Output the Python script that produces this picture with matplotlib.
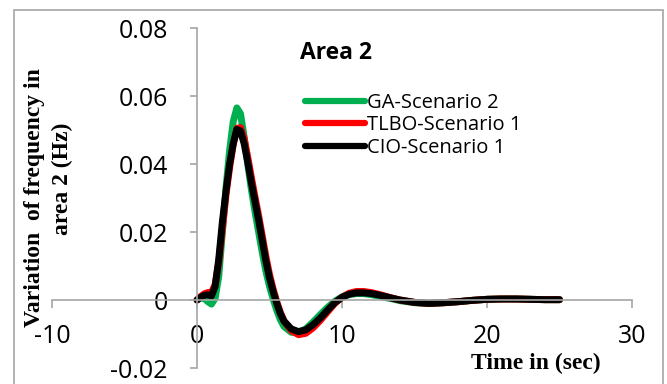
import matplotlib
matplotlib.use("Agg")
import matplotlib.pyplot as plt
from matplotlib.patches import Rectangle

# Time samples (s)
time_s = [0, 0.25, 0.5, 0.75, 1.0, 1.25, 1.5, 1.75, 2.0, 2.25, 2.5, 2.75, 3.0,
          3.25, 3.5, 3.75, 4.0, 4.25, 4.5, 4.75, 5.0, 5.25, 5.5, 5.75, 6.0,
          6.5, 7.0, 7.5, 8.0, 8.5, 9.0, 9.5, 10.0, 10.5, 11.0, 11.5, 12.0,
          12.5, 13.0, 13.5, 14.0, 15, 16, 17, 18, 19, 20, 21, 22, 23, 24, 25]

# Frequency deviation in area 2 (Hz)
ga_scenario2 = [0, 0.0006, 0.0005, -0.0005, -0.0012, 0.0005, 0.0070, 0.0200,
                0.0330, 0.0440, 0.0525, 0.0565, 0.0548, 0.0480, 0.0400, 0.0325,
                0.0260, 0.0200, 0.0140, 0.0085, 0.0040, 0.0003, -0.0030,
                -0.0058, -0.0078, -0.0095, -0.0095, -0.0085, -0.0065, -0.0043,
                -0.0022, -0.0004, 0.0009, 0.0016, 0.0019, 0.0019, 0.0016,
                0.0012, 0.0007, 0.0003, -0.0002, -0.0008, -0.0010, -0.0008,
                -0.0005, -0.0001, 0.0002, 0.0003, 0.0003, 0.0002, 0.0001, 0.0001]

tlbo_scenario1 = [0, 0.0010, 0.0018, 0.0022, 0.0022, 0.0045, 0.0110, 0.0210,
                  0.0310, 0.0390, 0.0458, 0.0505, 0.0507, 0.0475, 0.0420,
                  0.0360, 0.0303, 0.0248, 0.0188, 0.0128, 0.0075, 0.0032,
                  -0.0005, -0.0037, -0.0062, -0.0090, -0.0102, -0.0098,
                  -0.0082, -0.0060, -0.0035, -0.0010, 0.0008, 0.0020, 0.0025,
                  0.0025, 0.0022, 0.0017, 0.0011, 0.0005, 0.0000, -0.0007,
                  -0.0010, -0.0008, -0.0005, -0.0001, 0.0002, 0.0003, 0.0003,
                  0.0002, 0.0001, 0.0001]

cio_scenario1 = [0, 0.0008, 0.0014, 0.0015, 0.0012, 0.0040, 0.0120, 0.0230,
                 0.0320, 0.0400, 0.0460, 0.0502, 0.0497, 0.0460, 0.0405,
                 0.0345, 0.0290, 0.0235, 0.0175, 0.0115, 0.0065, 0.0025,
                 -0.0010, -0.0040, -0.0062, -0.0085, -0.0093, -0.0088,
                 -0.0073, -0.0053, -0.0030, -0.0008, 0.0008, 0.0017, 0.0021,
                 0.0021, 0.0019, 0.0015, 0.0010, 0.0005, 0.0000, -0.0007,
                 -0.0010, -0.0008, -0.0005, -0.0001, 0.0002, 0.0003, 0.0003,
                 0.0002, 0.0001, 0.0001]

series_labels = ["GA-Scenario 2", "TLBO-Scenario 1", "CIO-Scenario 1"]
series_colors = ["#00b050", "#ff0000", "#000000"]

x_ticks = [-10, 0, 10, 20, 30]
y_ticks = [-0.02, 0, 0.02, 0.04, 0.06, 0.08]
y_tick_labels = ["-0.02", "0", "0.02", "0.04", "0.06", "0.08"]

W, H = 667, 384
fig = plt.figure(figsize=(W / 100, H / 100), dpi=100)
fig.patch.set_facecolor("white")

# outer chart frame
fig.patches.append(Rectangle((14 / W, -0.05), (663 - 14) / W, (384 - 10) / H + 0.05,
                             transform=fig.transFigure, fill=False,
                             edgecolor="#a6a6a6", linewidth=1.2, zorder=0))

ax = fig.add_axes([52 / W, 16 / H, 580 / W, 340 / H])
ax.set_facecolor("none")

for series, label, color in zip([ga_scenario2, tlbo_scenario1, cio_scenario1],
                                series_labels, series_colors):
    ax.plot(time_s, series, color=color, linewidth=5.0, label=label,
            solid_capstyle="round", solid_joinstyle="round")

ax.set_xlim(-10, 30)
ax.set_ylim(-0.02, 0.08)

ax.spines["left"].set_position(("data", 0))
ax.spines["bottom"].set_position(("data", 0))
ax.spines["top"].set_visible(False)
ax.spines["right"].set_visible(False)
for side in ("left", "bottom"):
    ax.spines[side].set_color("#a6a6a6")
    ax.spines[side].set_linewidth(1.2)

tick_font = {"family": "Open Sans", "size": 18}
ax.set_xticks(x_ticks)
ax.set_xticklabels([str(v) for v in x_ticks], fontdict=tick_font)
ax.set_yticks(y_ticks)
ax.set_yticklabels(y_tick_labels, fontdict=tick_font)
ax.tick_params(axis="x", direction="out", length=6, width=1.2, color="#a6a6a6", pad=11)
ax.tick_params(axis="y", direction="out", length=5, width=1.2, color="#a6a6a6", pad=16)

fig.text(300 / W, 1 - 53 / H, "Area 2", family="Open Sans", fontweight="bold",
         fontsize=16.5, ha="left", va="center")

fig.text(35 / W, 1 - 198 / H, "Variation  of frequency in", family="Liberation Serif",
         fontweight="bold", fontsize=17, rotation=90, ha="center", va="center")
fig.text(62 / W, 1 - 179 / H, "area 2 (Hz)", family="Liberation Serif",
         fontweight="bold", fontsize=17, rotation=90, ha="center", va="center")

fig.text(536 / W, 1 - 363 / H, "Time in (sec)", family="Liberation Serif",
         fontweight="bold", fontsize=17, ha="center", va="center")

ax.legend(loc="upper left", bbox_to_anchor=(305 / W, 1 - 93 / H),
          bbox_transform=fig.transFigure, frameon=False,
          prop={"family": "Open Sans", "size": 14.5}, handlelength=3.0,
          handletextpad=0.1, labelspacing=0.12, borderaxespad=0, borderpad=0)
for line in ax.get_legend().get_lines():
    line.set_linewidth(4.5)

fig.savefig("out.png", dpi=100)
